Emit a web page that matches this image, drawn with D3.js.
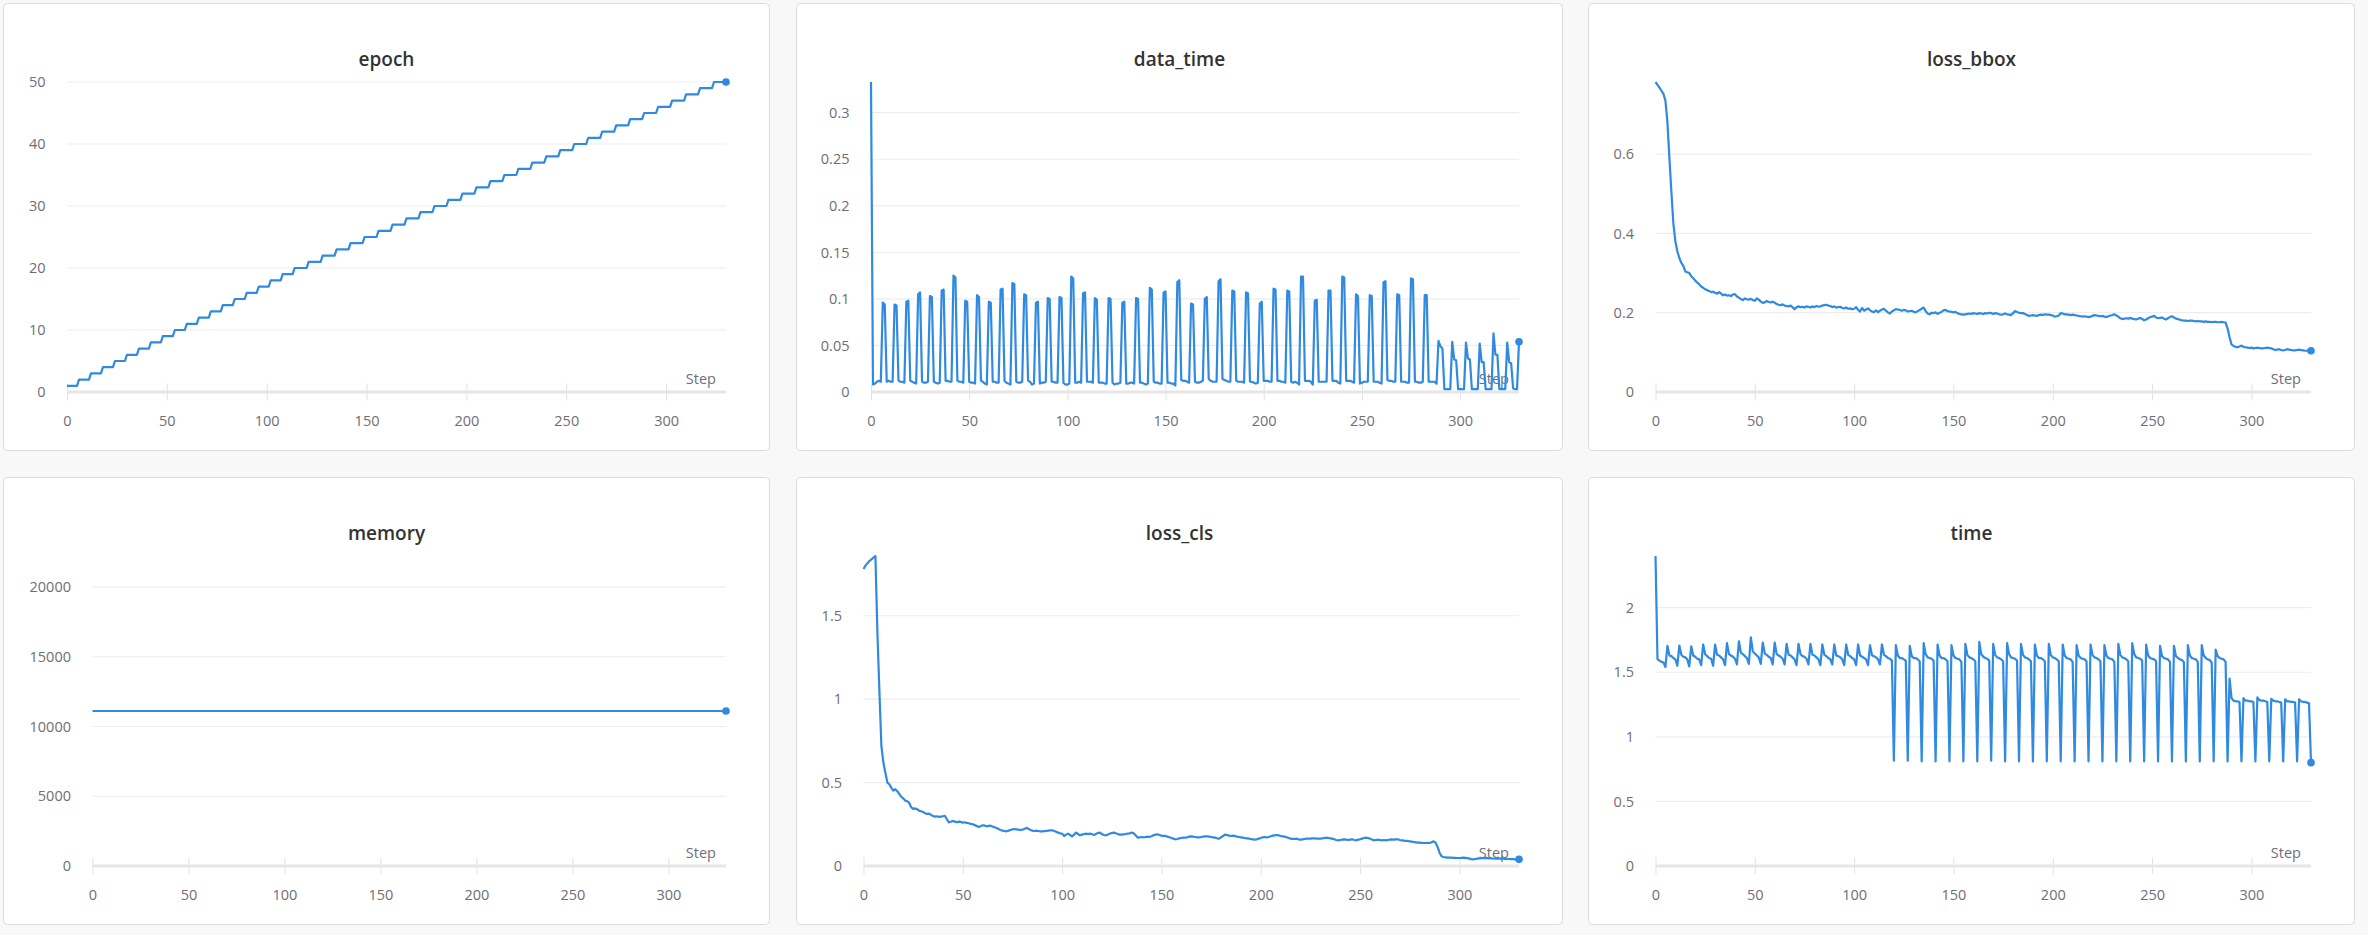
<!DOCTYPE html>
<html>
<head>
<meta charset="utf-8">
<script src="https://cdn.jsdelivr.net/npm/d3@7"></script>
<style>
  html, body { margin: 0; padding: 0; background: #f8f8f9; }
  svg { display: block; }
  text { font-family: "Source Sans Pro", "Open Sans", sans-serif; }
</style>
</head>
<body>
<svg id="board" width="2368" height="935"></svg>
<script>
// logged steps 0..330
var steps = d3.range(0, 331);

// first step of each epoch (epochs 1..50)
var epochStarts = [0, 6, 12, 18, 24, 30, 36, 42, 48, 54, 60, 66, 72, 78, 84, 90, 96, 102, 108, 114,
  121, 128, 135, 142, 149, 156, 163, 170, 177, 184, 191, 198, 205, 212, 219, 226, 233, 240, 247, 254,
  261, 268, 275, 282, 289, 296, 303, 310, 317, 324];

var dataTime = [
  0.333, 0.008, 0.009, 0.011, 0.012, 0.011,
  0.096, 0.094, 0.011, 0.012, 0.011, 0.011,
  0.094, 0.093, 0.012, 0.011, 0.011, 0.010,
  0.097, 0.098, 0.012, 0.011, 0.010, 0.009,
  0.105, 0.107, 0.011, 0.010, 0.010, 0.011,
  0.103, 0.102, 0.011, 0.010, 0.009, 0.010,
  0.109, 0.110, 0.012, 0.012, 0.011, 0.011,
  0.125, 0.123, 0.012, 0.011, 0.011, 0.010,
  0.098, 0.097, 0.011, 0.010, 0.010, 0.009,
  0.104, 0.102, 0.012, 0.011, 0.009, 0.008,
  0.097, 0.096, 0.011, 0.011, 0.010, 0.010,
  0.110, 0.111, 0.012, 0.010, 0.009, 0.008,
  0.117, 0.116, 0.011, 0.010, 0.010, 0.011,
  0.105, 0.104, 0.012, 0.011, 0.008, 0.009,
  0.096, 0.097, 0.009, 0.010, 0.010, 0.011,
  0.101, 0.100, 0.011, 0.011, 0.010, 0.010,
  0.102, 0.101, 0.010, 0.008, 0.008, 0.009,
  0.124, 0.122, 0.010, 0.010, 0.011, 0.010,
  0.106, 0.107, 0.011, 0.011, 0.011, 0.010,
  0.101, 0.099, 0.010, 0.010, 0.010, 0.009, 0.009,
  0.101, 0.100, 0.010, 0.008, 0.009, 0.009, 0.010,
  0.096, 0.097, 0.009, 0.009, 0.010, 0.010, 0.009,
  0.101, 0.100, 0.010, 0.010, 0.009, 0.008, 0.009,
  0.112, 0.110, 0.011, 0.010, 0.010, 0.009, 0.009,
  0.107, 0.108, 0.010, 0.010, 0.009, 0.009, 0.007,
  0.118, 0.120, 0.013, 0.012, 0.012, 0.011, 0.010,
  0.095, 0.094, 0.011, 0.010, 0.010, 0.011, 0.012,
  0.100, 0.102, 0.014, 0.012, 0.011, 0.011, 0.011,
  0.119, 0.121, 0.014, 0.013, 0.012, 0.011, 0.011,
  0.109, 0.108, 0.012, 0.011, 0.011, 0.011, 0.010,
  0.107, 0.106, 0.011, 0.011, 0.010, 0.009, 0.010,
  0.095, 0.097, 0.012, 0.012, 0.012, 0.011, 0.011,
  0.111, 0.110, 0.012, 0.012, 0.011, 0.011, 0.010,
  0.109, 0.108, 0.011, 0.010, 0.011, 0.010, 0.008,
  0.124, 0.124, 0.012, 0.012, 0.012, 0.011, 0.008,
  0.098, 0.099, 0.011, 0.011, 0.011, 0.011, 0.011,
  0.109, 0.109, 0.012, 0.012, 0.012, 0.010, 0.009,
  0.124, 0.123, 0.012, 0.012, 0.012, 0.011, 0.010,
  0.105, 0.103, 0.009, 0.010, 0.011, 0.011, 0.011,
  0.104, 0.103, 0.011, 0.011, 0.011, 0.010, 0.009,
  0.118, 0.119, 0.013, 0.012, 0.012, 0.011, 0.011,
  0.105, 0.104, 0.011, 0.011, 0.011, 0.010, 0.010,
  0.122, 0.121, 0.011, 0.011, 0.010, 0.010, 0.011,
  0.104, 0.104, 0.011, 0.011, 0.011, 0.011, 0.009,
  0.055, 0.049, 0.047, 0.003, 0.003, 0.003, 0.003,
  0.054, 0.035, 0.034, 0.003, 0.003, 0.003, 0.003,
  0.053, 0.036, 0.035, 0.003, 0.003, 0.003, 0.003,
  0.052, 0.032, 0.032, 0.003, 0.003, 0.003, 0.003,
  0.063, 0.040, 0.040, 0.003, 0.003, 0.003, 0.003,
  0.053, 0.032, 0.031, 0.004, 0.003, 0.003, 0.054
];

var lossBbox = [
  0.782, 0.775, 0.768, 0.760, 0.752, 0.735, 0.680, 0.590, 0.505, 0.425,
  0.380, 0.355, 0.338, 0.326, 0.318, 0.304, 0.302, 0.300, 0.292, 0.287,
  0.281, 0.276, 0.272, 0.266, 0.263, 0.259, 0.257, 0.255, 0.252, 0.253,
  0.250, 0.248, 0.252, 0.248, 0.244, 0.246, 0.243, 0.244, 0.242, 0.246,
  0.247, 0.241, 0.238, 0.234, 0.232, 0.236, 0.234, 0.233, 0.235, 0.232,
  0.230, 0.236, 0.233, 0.228, 0.225, 0.226, 0.230, 0.227, 0.226, 0.228,
  0.225, 0.222, 0.220, 0.219, 0.221, 0.218, 0.217, 0.216, 0.218, 0.214,
  0.209, 0.214, 0.216, 0.214, 0.215, 0.213, 0.216, 0.215, 0.213, 0.216,
  0.214, 0.217, 0.215, 0.216, 0.218, 0.219, 0.220, 0.218, 0.217, 0.214,
  0.216, 0.213, 0.214, 0.215, 0.212, 0.211, 0.213, 0.210, 0.211, 0.209,
  0.210, 0.214, 0.207, 0.203, 0.212, 0.205, 0.208, 0.211, 0.206, 0.203,
  0.201, 0.206, 0.201, 0.205, 0.208, 0.210, 0.205, 0.201, 0.198, 0.203,
  0.206, 0.209, 0.208, 0.207, 0.205, 0.207, 0.206, 0.203, 0.204, 0.205,
  0.202, 0.201, 0.204, 0.207, 0.210, 0.213, 0.204, 0.198, 0.196, 0.200,
  0.199, 0.201, 0.197, 0.200, 0.202, 0.206, 0.207, 0.204, 0.203, 0.202,
  0.201, 0.202, 0.199, 0.197, 0.196, 0.195, 0.196, 0.197, 0.198, 0.197,
  0.199, 0.198, 0.197, 0.199, 0.198, 0.197, 0.199, 0.198, 0.200, 0.199,
  0.197, 0.199, 0.198, 0.196, 0.195, 0.196, 0.198, 0.196, 0.195, 0.194,
  0.199, 0.204, 0.202, 0.200, 0.199, 0.199, 0.197, 0.194, 0.192, 0.193,
  0.194, 0.193, 0.192, 0.194, 0.195, 0.194, 0.196, 0.195, 0.195, 0.194,
  0.193, 0.190, 0.191, 0.193, 0.199, 0.198, 0.196, 0.196, 0.195, 0.194,
  0.195, 0.194, 0.193, 0.192, 0.191, 0.190, 0.191, 0.190, 0.189, 0.190,
  0.192, 0.194, 0.193, 0.192, 0.191, 0.192, 0.190, 0.189, 0.191, 0.193,
  0.194, 0.196, 0.193, 0.190, 0.186, 0.184, 0.185, 0.186, 0.185, 0.187,
  0.185, 0.184, 0.183, 0.185, 0.187, 0.184, 0.181, 0.183, 0.186, 0.189,
  0.190, 0.192, 0.188, 0.186, 0.187, 0.188, 0.185, 0.183, 0.186, 0.189,
  0.191, 0.188, 0.185, 0.184, 0.182, 0.181, 0.180, 0.180, 0.179, 0.180,
  0.180, 0.179, 0.178, 0.179, 0.178, 0.178, 0.177, 0.178, 0.177, 0.177,
  0.176, 0.177, 0.177, 0.176, 0.176, 0.177, 0.176, 0.175, 0.160, 0.138,
  0.120, 0.116, 0.114, 0.113, 0.115, 0.117, 0.114, 0.113, 0.112, 0.111,
  0.112, 0.110, 0.111, 0.112, 0.111, 0.110, 0.110, 0.111, 0.112, 0.111,
  0.110, 0.108, 0.106, 0.107, 0.108, 0.106, 0.105, 0.106, 0.108, 0.107,
  0.106, 0.105, 0.105, 0.106, 0.107, 0.106, 0.105, 0.104, 0.104, 0.105,
  0.104
];

var memorySteps = [0, 330];
var memoryValues = [11110, 11110];

var lossCls = [
  1.780, 1.800, 1.815, 1.828, 1.838, 1.848, 1.858, 1.400, 1.050, 0.720,
  0.620, 0.560, 0.500, 0.490, 0.470, 0.452, 0.460, 0.448, 0.432, 0.415,
  0.405, 0.392, 0.388, 0.378, 0.352, 0.342, 0.345, 0.340, 0.332, 0.328,
  0.324, 0.316, 0.312, 0.314, 0.306, 0.300, 0.296, 0.298, 0.294, 0.296,
  0.298, 0.300, 0.280, 0.262, 0.265, 0.270, 0.266, 0.262, 0.266, 0.264,
  0.260, 0.262, 0.258, 0.256, 0.252, 0.250, 0.245, 0.240, 0.234, 0.238,
  0.244, 0.242, 0.238, 0.240, 0.242, 0.236, 0.232, 0.228, 0.222, 0.216,
  0.212, 0.210, 0.208, 0.212, 0.216, 0.220, 0.222, 0.220, 0.218, 0.216,
  0.218, 0.222, 0.228, 0.224, 0.216, 0.212, 0.210, 0.212, 0.210, 0.208,
  0.208, 0.209, 0.210, 0.212, 0.214, 0.214, 0.210, 0.205, 0.200, 0.196,
  0.194, 0.180, 0.188, 0.194, 0.186, 0.178, 0.188, 0.200, 0.192, 0.184,
  0.188, 0.192, 0.194, 0.192, 0.194, 0.190, 0.186, 0.192, 0.198, 0.200,
  0.192, 0.186, 0.184, 0.188, 0.194, 0.198, 0.200, 0.196, 0.192, 0.188,
  0.188, 0.190, 0.192, 0.194, 0.196, 0.200, 0.196, 0.184, 0.170, 0.172,
  0.174, 0.172, 0.174, 0.176, 0.174, 0.178, 0.184, 0.188, 0.190, 0.186,
  0.182, 0.180, 0.180, 0.176, 0.172, 0.168, 0.164, 0.160, 0.162, 0.166,
  0.168, 0.170, 0.170, 0.172, 0.176, 0.178, 0.176, 0.174, 0.172, 0.172,
  0.174, 0.176, 0.178, 0.178, 0.176, 0.174, 0.172, 0.170, 0.166, 0.164,
  0.172, 0.180, 0.188, 0.186, 0.182, 0.180, 0.182, 0.180, 0.176, 0.174,
  0.172, 0.170, 0.168, 0.166, 0.164, 0.162, 0.160, 0.158, 0.160, 0.164,
  0.168, 0.172, 0.174, 0.172, 0.174, 0.178, 0.182, 0.184, 0.186, 0.184,
  0.180, 0.178, 0.176, 0.172, 0.168, 0.164, 0.162, 0.162, 0.164, 0.160,
  0.158, 0.160, 0.162, 0.164, 0.164, 0.164, 0.166, 0.166, 0.164, 0.164,
  0.164, 0.166, 0.168, 0.168, 0.168, 0.166, 0.164, 0.160, 0.156, 0.154,
  0.156, 0.158, 0.160, 0.158, 0.156, 0.158, 0.160, 0.156, 0.154, 0.158,
  0.160, 0.164, 0.168, 0.170, 0.168, 0.164, 0.158, 0.154, 0.156, 0.158,
  0.156, 0.154, 0.156, 0.154, 0.156, 0.158, 0.160, 0.158, 0.160, 0.160,
  0.156, 0.154, 0.152, 0.150, 0.150, 0.148, 0.146, 0.144, 0.142, 0.140,
  0.140, 0.139, 0.138, 0.138, 0.139, 0.138, 0.142, 0.148, 0.140, 0.114,
  0.080, 0.058, 0.054, 0.052, 0.050, 0.050, 0.050, 0.049, 0.049, 0.048,
  0.048, 0.049, 0.050, 0.049, 0.047, 0.044, 0.041, 0.040, 0.042, 0.044,
  0.046, 0.047, 0.048, 0.047, 0.048, 0.046, 0.045, 0.045, 0.044, 0.044,
  0.044, 0.045, 0.044, 0.043, 0.042, 0.042, 0.041, 0.041, 0.040, 0.040,
  0.040
];

var timeValues = [
  2.400, 1.600, 1.590, 1.580, 1.575, 1.540,
  1.705, 1.630, 1.625, 1.610, 1.600, 1.550,
  1.707, 1.635, 1.620, 1.615, 1.600, 1.545,
  1.700, 1.630, 1.620, 1.605, 1.600, 1.555,
  1.715, 1.640, 1.625, 1.610, 1.605, 1.550,
  1.715, 1.635, 1.630, 1.615, 1.600, 1.555,
  1.725, 1.640, 1.630, 1.620, 1.605, 1.560,
  1.740, 1.650, 1.640, 1.625, 1.610, 1.565,
  1.770, 1.660, 1.645, 1.630, 1.615, 1.565,
  1.730, 1.645, 1.635, 1.620, 1.610, 1.560,
  1.730, 1.640, 1.630, 1.620, 1.605, 1.560,
  1.720, 1.635, 1.630, 1.615, 1.600, 1.555,
  1.720, 1.640, 1.625, 1.620, 1.605, 1.560,
  1.720, 1.635, 1.630, 1.615, 1.600, 1.555,
  1.715, 1.635, 1.625, 1.610, 1.600, 1.560,
  1.715, 1.630, 1.625, 1.615, 1.600, 1.555,
  1.715, 1.635, 1.625, 1.610, 1.600, 1.555,
  1.715, 1.630, 1.620, 1.610, 1.600, 1.555,
  1.710, 1.630, 1.625, 1.615, 1.600, 1.560,
  1.715, 1.635, 1.625, 1.610, 1.605, 1.590, 0.815,
  1.710, 1.630, 1.610, 1.610, 1.600, 1.590, 0.815,
  1.705, 1.625, 1.610, 1.610, 1.600, 1.585, 0.810,
  1.725, 1.640, 1.615, 1.610, 1.605, 1.590, 0.810,
  1.715, 1.630, 1.610, 1.610, 1.600, 1.585, 0.810,
  1.710, 1.630, 1.610, 1.605, 1.600, 1.580, 0.810,
  1.720, 1.635, 1.615, 1.610, 1.600, 1.585, 0.810,
  1.735, 1.640, 1.620, 1.610, 1.605, 1.590, 0.815,
  1.720, 1.635, 1.615, 1.610, 1.600, 1.585, 0.810,
  1.725, 1.640, 1.615, 1.610, 1.605, 1.590, 0.810,
  1.720, 1.635, 1.615, 1.610, 1.600, 1.585, 0.810,
  1.715, 1.630, 1.610, 1.610, 1.600, 1.585, 0.810,
  1.720, 1.635, 1.615, 1.610, 1.600, 1.585, 0.810,
  1.715, 1.630, 1.610, 1.605, 1.600, 1.580, 0.810,
  1.710, 1.630, 1.610, 1.605, 1.600, 1.585, 0.810,
  1.715, 1.635, 1.615, 1.610, 1.600, 1.585, 0.810,
  1.710, 1.630, 1.610, 1.605, 1.600, 1.580, 0.810,
  1.720, 1.635, 1.615, 1.610, 1.600, 1.585, 0.810,
  1.725, 1.640, 1.615, 1.610, 1.605, 1.590, 0.810,
  1.715, 1.630, 1.610, 1.605, 1.600, 1.585, 0.810,
  1.705, 1.625, 1.610, 1.605, 1.600, 1.580, 0.810,
  1.705, 1.625, 1.610, 1.600, 1.595, 1.580, 0.810,
  1.710, 1.630, 1.610, 1.605, 1.600, 1.580, 0.810,
  1.710, 1.630, 1.610, 1.600, 1.595, 1.575, 0.810,
  1.675, 1.625, 1.610, 1.605, 1.600, 1.580, 0.810,
  1.450, 1.300, 1.280, 1.275, 1.275, 1.270, 0.810,
  1.300, 1.280, 1.280, 1.275, 1.275, 1.270, 0.810,
  1.305, 1.285, 1.280, 1.280, 1.275, 1.270, 0.810,
  1.295, 1.280, 1.275, 1.275, 1.270, 1.265, 0.810,
  1.290, 1.275, 1.275, 1.270, 1.270, 1.265, 0.810,
  1.290, 1.275, 1.270, 1.270, 1.265, 1.260, 0.800
];

// epoch value at each step, counted from the epoch start list
var epochValues = steps.map(function (s) {
  return epochStarts.filter(function (e) { return e <= s; }).length;
});

var cardW = 767, cardH = 448;
var colX = [3, 796, 1588];
var rowY = [3, 477];
var lineColor = "#2f8ae0";

var panels = [
  {title: "epoch",     col: 0, row: 0, left: 64,   xs: steps,       ys: epochValues},
  {title: "data_time", col: 1, row: 0, left: 75,   xs: steps,       ys: dataTime},
  {title: "loss_bbox", col: 2, row: 0, left: 67.5, xs: steps,       ys: lossBbox},
  {title: "memory",    col: 0, row: 1, left: 89.5, xs: memorySteps, ys: memoryValues},
  {title: "loss_cls",  col: 1, row: 1, left: 67.5, xs: steps,       ys: lossCls},
  {title: "time",      col: 2, row: 1, left: 67.5, xs: steps,       ys: timeValues}
];

var svg = d3.select("#board");
var fmt = function (d) { return d === 0 ? "0" : d3.format("~g")(d); };

panels.forEach(function (p) {
  var g = svg.append("g")
    .attr("transform", "translate(" + colX[p.col] + "," + rowY[p.row] + ")");

  g.append("rect")
    .attr("x", 0.5).attr("y", 0.5)
    .attr("width", cardW - 1).attr("height", cardH - 1)
    .attr("rx", 4)
    .attr("fill", "#fff")
    .attr("stroke", "#dcdcdf");

  g.append("text")
    .attr("x", cardW / 2).attr("y", 62.5)
    .attr("text-anchor", "middle")
    .style("font-size", "19px")
    .style("font-weight", 600)
    .attr("fill", "#333")
    .text(p.title);

  var right = cardW - 44;
  var yMin = d3.min(p.ys), yMax = d3.max(p.ys);
  if (yMax === yMin) yMax = yMax * 2;   // flat series gets headroom

  var x = d3.scaleLinear().domain([0, 330]).range([p.left, right]);
  var y = d3.scaleLinear().domain([0, yMax]).range([389, 79]);

  // horizontal grid
  g.append("g")
    .selectAll("line")
    .data(y.ticks(5).filter(function (t) { return t > 0; }))
    .enter().append("line")
      .attr("x1", p.left).attr("x2", right)
      .attr("y1", function (d) { return y(d); })
      .attr("y2", function (d) { return y(d); })
      .attr("stroke", "#ededf0")
      .attr("stroke-width", 1.2);

  // y axis labels
  g.append("g")
    .attr("transform", "translate(" + p.left + ",0)")
    .call(d3.axisLeft(y).ticks(5).tickSize(0).tickPadding(21.5).tickFormat(fmt))
    .call(function (a) { a.select(".domain").remove(); })
    .selectAll("text")
      .attr("fill", "#6e6e78")
      .style("font-size", "14.5px");

  // x axis
  var xa = g.append("g")
    .attr("transform", "translate(0," + y(0) + ")")
    .call(d3.axisBottom(x).ticks(7).tickSizeOuter(0).tickFormat(d3.format("d")));
  xa.select(".domain").remove();
  xa.selectAll(".tick line")
    .attr("y1", -8.5).attr("y2", 8.5)
    .attr("stroke", "#e2e2e5");
  xa.selectAll(".tick text")
    .attr("y", 33.6).attr("dy", 0)
    .attr("fill", "#6e6e78")
    .style("font-size", "14.5px");

  g.append("line")
    .attr("x1", p.left).attr("x2", right)
    .attr("y1", y(0)).attr("y2", y(0))
    .attr("stroke", "#e6e6e9")
    .attr("stroke-width", 3.2);

  g.append("text")
    .attr("x", right - 10).attr("y", 381)
    .attr("text-anchor", "end")
    .style("font-size", "14.5px")
    .attr("fill", "#6e6e78")
    .text("Step");

  var line = d3.line()
    .x(function (d, i) { return x(p.xs[i]); })
    .y(function (d) { return y(d); });

  g.append("path")
    .datum(p.ys)
    .attr("fill", "none")
    .attr("stroke", lineColor)
    .attr("stroke-width", 2.2)
    .attr("stroke-linejoin", "round")
    .attr("d", line);

  var n = p.ys.length - 1;
  g.append("circle")
    .attr("cx", x(p.xs[n]))
    .attr("cy", y(p.ys[n]))
    .attr("r", 3.8)
    .attr("fill", lineColor);
});
</script>
</body>
</html>
